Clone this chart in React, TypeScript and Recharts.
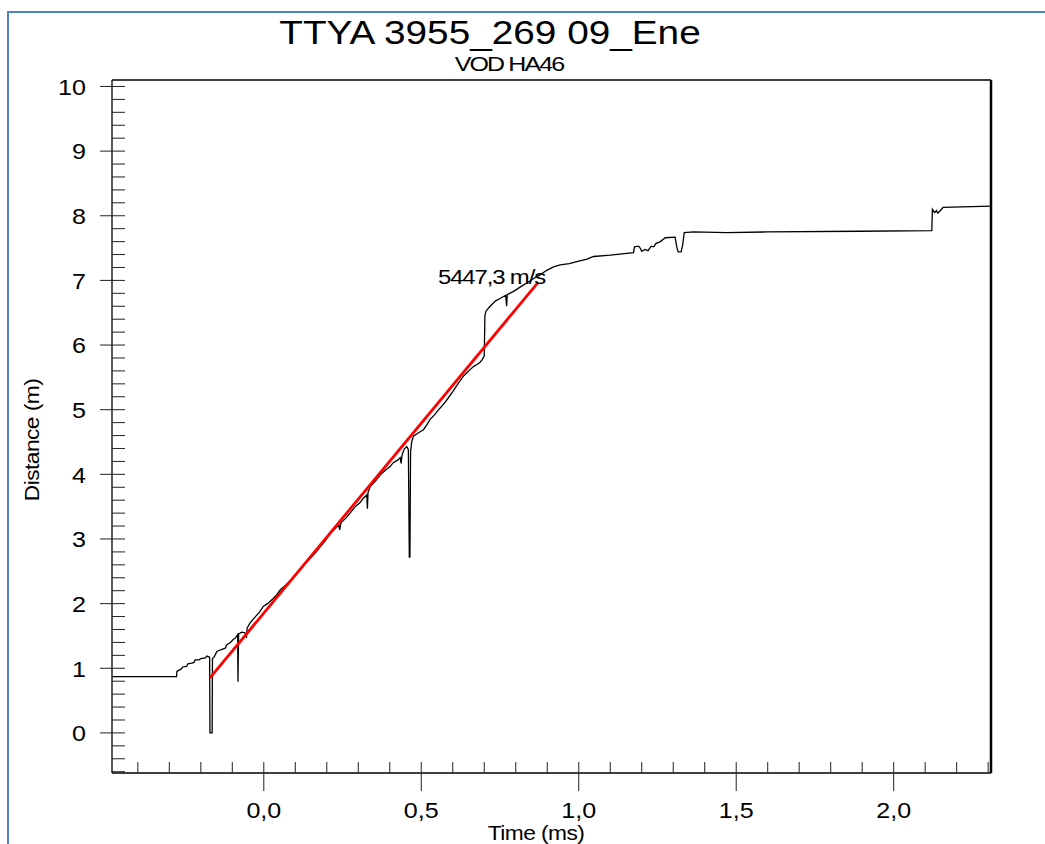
import { ComposedChart, Line, XAxis, YAxis, ReferenceLine, ReferenceDot } from "recharts"

// trace: [time ms, distance m]
const tracePoints: [number, number][] = [
  [-0.482, 0.87], [-0.277, 0.87], [-0.276, 0.95], [-0.262, 0.99], [-0.258, 1.02],
  [-0.245, 1.03], [-0.241, 1.07], [-0.229, 1.08], [-0.222, 1.09], [-0.218, 1.13],
  [-0.205, 1.13], [-0.2, 1.15], [-0.185, 1.16], [-0.181, 1.19], [-0.172, 1.17],
  [-0.171, 0.0], [-0.164, 0.0], [-0.163, 1.15], [-0.157, 1.18], [-0.149, 1.26],
  [-0.135, 1.29], [-0.122, 1.31], [-0.118, 1.36], [-0.106, 1.4], [-0.098, 1.44],
  [-0.09, 1.47], [-0.083, 1.52], [-0.082, 0.79], [-0.08, 1.53], [-0.07, 1.56],
  [-0.06, 1.55], [-0.055, 1.47], [-0.053, 1.62], [-0.044, 1.7], [-0.03, 1.78],
  [-0.015, 1.86], [-0.001, 1.96], [0.012, 2.0], [0.03, 2.08], [0.04, 2.13],
  [0.052, 2.21], [0.07, 2.29], [0.085, 2.36], [0.105, 2.47], [0.12, 2.55],
  [0.137, 2.65], [0.155, 2.74], [0.17, 2.82], [0.179, 2.88], [0.195, 2.97],
  [0.211, 3.09], [0.225, 3.15], [0.238, 3.22], [0.241, 3.14], [0.245, 3.25],
  [0.262, 3.33], [0.274, 3.4], [0.29, 3.5], [0.305, 3.56], [0.316, 3.63],
  [0.327, 3.68], [0.329, 3.47], [0.331, 3.72], [0.338, 3.81], [0.355, 3.9],
  [0.369, 3.99], [0.385, 4.06], [0.401, 4.12], [0.411, 4.18], [0.425, 4.22],
  [0.433, 4.26], [0.436, 4.17], [0.439, 4.3], [0.446, 4.39], [0.454, 4.43],
  [0.459, 4.38], [0.462, 2.72], [0.464, 2.72], [0.466, 4.35], [0.47, 4.51],
  [0.475, 4.59], [0.49, 4.64], [0.507, 4.69], [0.518, 4.77], [0.528, 4.85],
  [0.542, 4.92], [0.555, 5.0], [0.568, 5.07], [0.581, 5.15], [0.6, 5.28],
  [0.618, 5.41], [0.634, 5.52], [0.645, 5.57], [0.655, 5.62], [0.667, 5.67],
  [0.677, 5.7], [0.686, 5.73], [0.693, 5.77], [0.7, 5.83], [0.702, 6.45],
  [0.705, 6.52], [0.713, 6.57], [0.725, 6.63], [0.735, 6.68], [0.75, 6.72],
  [0.768, 6.77], [0.771, 6.6], [0.773, 6.78], [0.793, 6.83], [0.815, 6.9],
  [0.835, 6.96], [0.857, 7.03], [0.878, 7.09], [0.9, 7.16], [0.92, 7.21],
  [0.941, 7.24], [0.97, 7.26], [0.994, 7.29], [1.01, 7.31], [1.026, 7.33],
  [1.047, 7.37], [1.1, 7.39], [1.174, 7.43], [1.177, 7.52], [1.19, 7.53],
  [1.195, 7.5], [1.2, 7.45], [1.21, 7.48], [1.22, 7.46], [1.23, 7.53],
  [1.238, 7.52], [1.245, 7.57], [1.259, 7.6], [1.275, 7.66], [1.306, 7.67],
  [1.312, 7.5], [1.316, 7.44], [1.325, 7.44], [1.33, 7.55], [1.335, 7.74],
  [1.365, 7.75], [1.47, 7.74], [1.6, 7.75], [1.894, 7.76], [2.121, 7.77],
  [2.123, 8.1], [2.13, 8.05], [2.136, 8.08], [2.14, 8.04], [2.15, 8.09],
  [2.157, 8.13], [2.31, 8.15],
]

// fitted velocity line
const fitPoints: [number, number][] = [
  [-0.171, 0.85],
  [0.871, 6.97],
]

const xDomain: [number, number] = [-0.482, 2.309]
const yDomain: [number, number] = [-0.62, 10.1]
const xMajorTicks = [0, 0.5, 1, 1.5, 2]
const xMajorLabels = ["0,0", "0,5", "1,0", "1,5", "2,0"]
const yMajorTicks = [0, 1, 2, 3, 4, 5, 6, 7, 8, 9, 10]

const chartTitle = "TTYA 3955_269 09_Ene"
const chartSubtitle = "VOD HA46"
const velocityLabel = "5447,3 m/s"

const steps = (from: number, to: number, step: number) => {
  const out: number[] = []
  for (let v = from; v <= to + 1e-9; v += step) out.push(Math.round(v * 10) / 10)
  return out
}
const xTicks = steps(-0.4, 2.3, 0.1)
const yTicks = steps(-0.6, 10, 0.2)

const traceData = tracePoints.map(([t, d]) => ({ t, d }))
const fitData = fitPoints.map(([t, d]) => ({ t, d }))

const FONT = "'Liberation Sans', Arial, sans-serif"
const STRETCH = 1.14

const isMajor = (list: number[], v: number) => list.findIndex((m) => Math.abs(m - v) < 1e-6)

function YTick(props: any) {
  const { x, y, payload } = props
  const i = isMajor(yMajorTicks, payload.value)
  if (i < 0) return <line x1={x} x2={x + 13} y1={y} y2={y} stroke="#222" />
  return (
    <g>
      <line x1={x - 12} x2={x + 13} y1={y} y2={y} stroke="#222" />
      <g transform={`translate(${x - 26},${y})`}>
        <text textAnchor="end" dy="0.38em" fontSize={22} fontFamily={FONT} fill="#000" transform={`scale(${STRETCH},1)`}>
          {yMajorTicks[i]}
        </text>
      </g>
    </g>
  )
}

function XTick(props: any) {
  const { x, y, payload } = props
  const i = isMajor(xMajorTicks, payload.value)
  if (i < 0) return <line x1={x} x2={x} y1={y - 11} y2={y} stroke="#222" />
  return (
    <g>
      <line x1={x} x2={x} y1={y - 11} y2={y + 18} stroke="#222" />
      <g transform={`translate(${x},${y + 45})`}>
        <text textAnchor="middle" fontSize={22} fontFamily={FONT} fill="#000" transform={`scale(${STRETCH},1)`}>
          {xMajorLabels[i]}
        </text>
      </g>
    </g>
  )
}

function VelocityText(props: any) {
  const { viewBox } = props
  if (!viewBox) return null
  const cx = viewBox.x + viewBox.width / 2
  const cy = viewBox.y + viewBox.height / 2
  return (
    <g transform={`translate(${cx},${cy})`}>
      <text textAnchor="middle" dy="0.36em" fontSize={21} fontFamily={FONT} letterSpacing={-1} fill="#000" transform={`scale(${STRETCH},1)`}>
        {velocityLabel}
      </text>
    </g>
  )
}

export default function App() {
  return (
    <div style={{ position: "fixed", left: 0, top: 0, width: 1045, height: 844, background: "#fff", overflow: "hidden" }}>
      <div
        style={{
          position: "absolute",
          left: 7,
          top: 11,
          width: 1100,
          height: 900,
          borderLeft: "2px solid #4F81BD",
          borderTop: "2px solid #4F81BD",
        }}
      />
      <ComposedChart width={1045} height={844} margin={{ top: 80, right: 54, bottom: 0, left: 0 }}>
        <XAxis
          dataKey="t"
          type="number"
          domain={xDomain}
          allowDataOverflow
          ticks={xTicks}
          interval={0}
          tickSize={0}
          tickMargin={0}
          tickLine={false}
          tick={<XTick />}
          height={71}
          axisLine={{ stroke: "#000", strokeWidth: 1.3 }}
        />
        <YAxis
          type="number"
          domain={yDomain}
          allowDataOverflow
          ticks={yTicks}
          interval={0}
          tickSize={0}
          tickMargin={0}
          tickLine={false}
          tick={<YTick />}
          width={112}
          axisLine={{ stroke: "#000", strokeWidth: 1.3 }}
        />
        <ReferenceLine y={yDomain[1]} stroke="#000" strokeWidth={1.3} />
        <ReferenceLine x={xDomain[1]} stroke="#000" strokeWidth={2.5} />
        <Line
          data={traceData}
          dataKey="d"
          type="linear"
          stroke="#000"
          strokeWidth={1.3}
          dot={false}
          isAnimationActive={false}
        />
        <Line
          data={fitData}
          dataKey="d"
          type="linear"
          stroke="#ff0000"
          strokeWidth={2.8}
          dot={false}
          isAnimationActive={false}
        />
        <ReferenceDot x={0.723} y={7.06} r={1} fill="none" stroke="none" label={(p: any) => <VelocityText {...p} />} />
      </ComposedChart>
      <svg width={1045} height={844} style={{ position: "absolute", left: 0, top: 0, pointerEvents: "none" }}>
        <g transform="translate(490,44)">
          <text textAnchor="middle" fontSize={34} fontFamily={FONT} fill="#000" transform={`scale(${STRETCH},1)`}>
            {chartTitle}
          </text>
        </g>
        <g transform="translate(509,71)">
          <text textAnchor="middle" fontSize={20} fontFamily={FONT} letterSpacing={-1.5} fill="#000" transform="scale(1.25,1)">
            {chartSubtitle}
          </text>
        </g>
        <g transform="translate(536,840)">
          <text textAnchor="middle" fontSize={20} fontFamily={FONT} letterSpacing={-0.5} fill="#000" transform={`scale(${STRETCH},1)`}>
            Time (ms)
          </text>
        </g>
        <g transform="translate(32,440) rotate(-90)">
          <text textAnchor="middle" dy="0.35em" fontSize={20} fontFamily={FONT} letterSpacing={-0.5} fill="#000" transform={`scale(${STRETCH},1)`}>
            Distance (m)
          </text>
        </g>
      </svg>
    </div>
  )
}
